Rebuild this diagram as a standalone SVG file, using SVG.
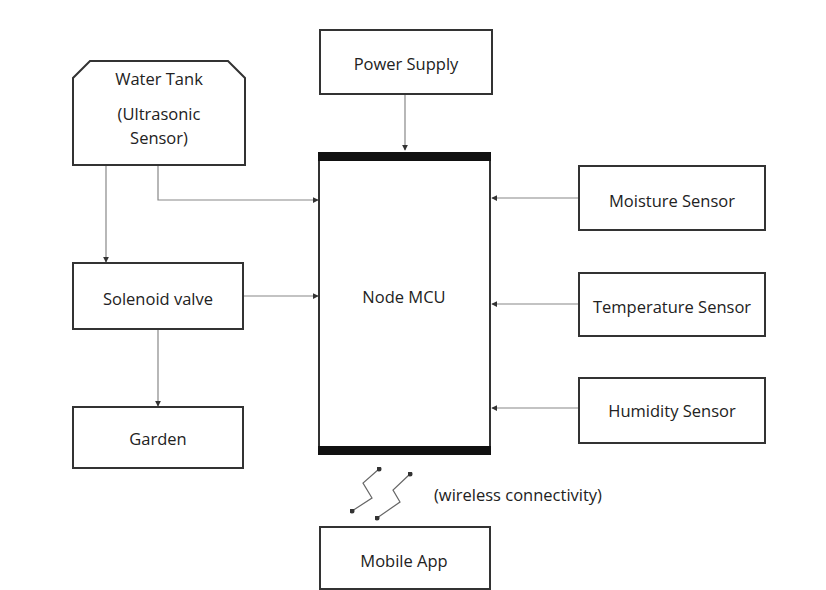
<svg xmlns="http://www.w3.org/2000/svg" width="826" height="590" viewBox="0 0 826 590">
<defs>
<style>
.box{fill:#fff;stroke:#333;stroke-width:2}
.t{font-family:"Open Sans","DejaVu Sans",sans-serif;font-size:16.5px;font-weight:500;fill:#222;text-anchor:middle;dominant-baseline:central}
.c{fill:none;stroke:#888;stroke-width:1.2}
.bar{fill:#111}
.w{fill:none;stroke:#666;stroke-width:1.2}
</style>
<marker id="ah" viewBox="0 0 8 8" refX="7" refY="4" markerWidth="6" markerHeight="6" orient="auto" markerUnits="userSpaceOnUse">
<path d="M0,0 L8,4 L0,8 z" fill="#333"/>
</marker>
<marker id="dot" viewBox="0 0 6 6" refX="3" refY="3" markerWidth="5" markerHeight="5" markerUnits="userSpaceOnUse">
<circle cx="3" cy="3" r="3" fill="#333"/>
</marker>
</defs>
<rect width="826" height="590" fill="#fff"/>
<g id="connectors">
<path class="c" d="M106,165 V262" marker-end="url(#ah)"/>
<path class="c" d="M158,165 V200 H318" marker-end="url(#ah)"/>
<path class="c" d="M405,94 V150" marker-end="url(#ah)"/>
<path class="c" d="M243,296 H318" marker-end="url(#ah)"/>
<path class="c" d="M158,329 V406" marker-end="url(#ah)"/>
<path class="c" d="M579,198 H492" marker-end="url(#ah)"/>
<path class="c" d="M579,304 H492" marker-end="url(#ah)"/>
<path class="c" d="M579,408 H492" marker-end="url(#ah)"/>
</g>
<g id="wireless">
<path class="w" d="M379,469 L363,483 L372,498 L352,511" marker-start="url(#dot)" marker-end="url(#dot)"/>
<path class="w" d="M410,474 L393,490 L400,502 L377,518" marker-start="url(#dot)" marker-end="url(#dot)"/>
<text class="t" x="518" y="494">(wireless connectivity)</text>
</g>
<g id="water-tank">
<path class="box" d="M90,61 H228 L245,78 V165 H73 V78 Z"/>
<text class="t" x="159" y="78">Water Tank</text>
<text class="t" x="159" y="113">(Ultrasonic</text>
<text class="t" x="159" y="137">Sensor)</text>
</g>
<g id="power-supply">
<rect class="box" x="320" y="30" width="172" height="64"/>
<text class="t" x="406" y="63">Power Supply</text>
</g>
<g id="node-mcu">
<rect class="box" x="319" y="156" width="171" height="295"/>
<rect class="bar" x="318" y="152" width="173" height="9"/>
<rect class="bar" x="318" y="446" width="173" height="9"/>
<text class="t" x="404" y="296">Node MCU</text>
</g>
<g id="solenoid-valve">
<rect class="box" x="73" y="263" width="170" height="66"/>
<text class="t" x="158" y="298">Solenoid valve</text>
</g>
<g id="garden">
<rect class="box" x="73" y="407" width="170" height="61"/>
<text class="t" x="158" y="438">Garden</text>
</g>
<g id="moisture-sensor">
<rect class="box" x="579" y="166" width="186" height="64"/>
<text class="t" x="672" y="200">Moisture Sensor</text>
</g>
<g id="temperature-sensor">
<rect class="box" x="579" y="273" width="186" height="63"/>
<text class="t" x="672" y="306">Temperature Sensor</text>
</g>
<g id="humidity-sensor">
<rect class="box" x="579" y="378" width="186" height="65"/>
<text class="t" x="672" y="410">Humidity Sensor</text>
</g>
<g id="mobile-app">
<rect class="box" x="320" y="527" width="170" height="62"/>
<text class="t" x="404" y="560">Mobile App</text>
</g>
</svg>
